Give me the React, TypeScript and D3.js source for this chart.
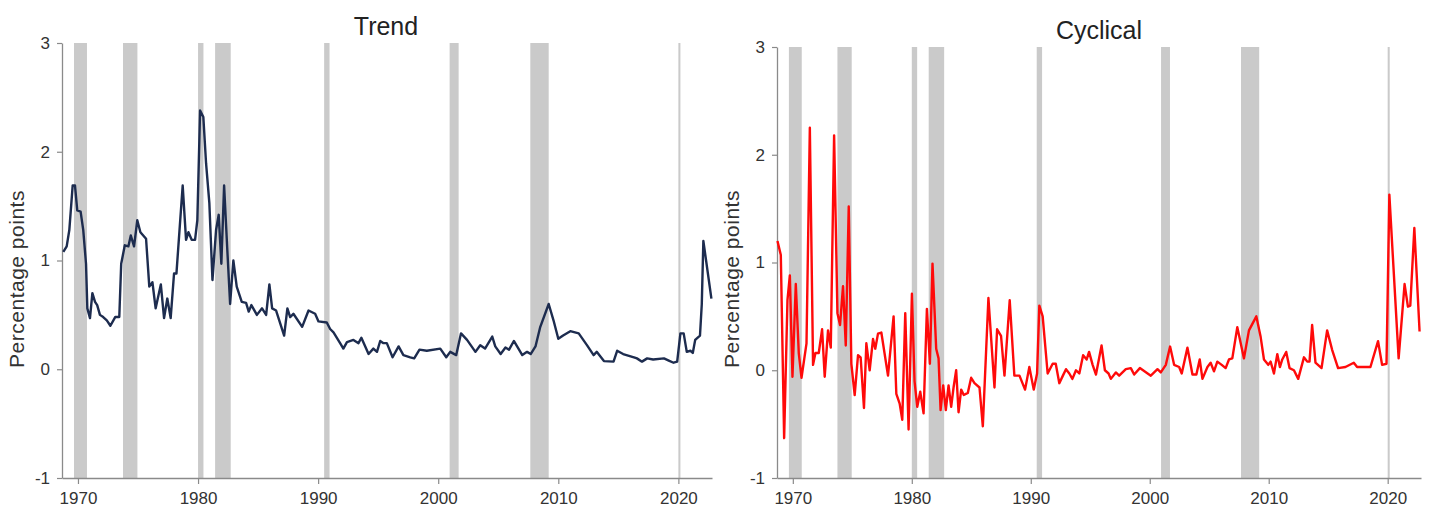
import React, { useEffect, useRef } from 'react';
import * as d3 from 'd3';

// trend component, quarterly-ish readings (year, percentage points)
const trendYears = [
  1968.78, 1969.06, 1969.28, 1969.56, 1969.75, 1969.94, 1970.22, 1970.44, 1970.67, 1970.78,
  1971.0, 1971.2, 1971.42, 1971.6, 1971.83, 1972.1, 1972.4, 1972.7, 1973.1, 1973.44,
  1973.6, 1973.9, 1974.2, 1974.4, 1974.67, 1974.94, 1975.2, 1975.67, 1975.94, 1976.2,
  1976.47, 1976.9, 1977.17, 1977.44, 1977.72, 1978.0, 1978.2, 1978.72, 1979.0, 1979.2,
  1979.47, 1979.75, 1979.94, 1980.17, 1980.44, 1980.67, 1980.94, 1981.2, 1981.5, 1981.72,
  1981.94, 1982.17, 1982.44, 1982.67, 1982.94, 1983.22, 1983.64, 1984.0, 1984.22, 1984.44,
  1984.9, 1985.33, 1985.67, 1985.94, 1986.17, 1986.5, 1987.17, 1987.44, 1987.67, 1987.94,
  1988.67, 1989.2, 1989.75, 1990.03, 1990.72, 1991.0, 1991.28, 1991.83, 1992.1, 1992.4,
  1992.94, 1993.36, 1993.6, 1994.2, 1994.6, 1994.9, 1995.17, 1995.44, 1995.72, 1996.2,
  1996.7, 1997.1, 1997.67, 1998.0, 1998.44, 1999.05, 2000.17, 2000.67, 2001.0, 2001.5,
  2001.9, 2002.4, 2003.1, 2003.5, 2003.9, 2004.5, 2004.75, 2005.2, 2005.6, 2005.9,
  2006.3, 2007.0, 2007.4, 2007.7, 2008.1, 2008.5, 2009.2, 2009.6, 2010.0, 2010.4,
  2011.0, 2011.7, 2012.4, 2012.94, 2013.2, 2013.8, 2014.6, 2014.9, 2015.4, 2016.3,
  2016.55, 2016.97, 2017.4, 2017.9, 2018.8, 2019.2, 2019.6, 2019.9, 2020.17, 2020.44,
  2020.7, 2021.0, 2021.2, 2021.4, 2021.8, 2021.95, 2022.08, 2022.75,
];
const trendValues = [
  1.08, 1.13, 1.28, 1.69, 1.69, 1.46, 1.45, 1.28, 0.97, 0.56,
  0.47, 0.7, 0.62, 0.59, 0.5, 0.48, 0.45, 0.4, 0.48, 0.48,
  0.97, 1.14, 1.13, 1.23, 1.13, 1.37, 1.26, 1.2, 0.76, 0.8,
  0.56, 0.78, 0.47, 0.65, 0.47, 0.88, 0.88, 1.69, 1.19, 1.26,
  1.19, 1.19, 1.37, 2.38, 2.32, 1.89, 1.53, 0.82, 1.28, 1.42,
  0.97, 1.69, 1.09, 0.6, 1.0, 0.76, 0.62, 0.61, 0.53, 0.59,
  0.5, 0.56, 0.5, 0.78, 0.56, 0.54, 0.31, 0.56, 0.48, 0.51,
  0.39, 0.54, 0.51, 0.44, 0.43, 0.37, 0.34, 0.24, 0.19, 0.25,
  0.27, 0.24, 0.29, 0.14, 0.19, 0.16, 0.26, 0.24, 0.24, 0.11,
  0.21, 0.13, 0.11, 0.1, 0.18, 0.17, 0.19, 0.11, 0.16, 0.13,
  0.33, 0.27, 0.16, 0.22, 0.19, 0.3, 0.21, 0.14, 0.2, 0.18,
  0.26, 0.13, 0.16, 0.14, 0.21, 0.39, 0.6, 0.45, 0.28, 0.31,
  0.35, 0.33, 0.22, 0.13, 0.16, 0.075, 0.07, 0.17, 0.14, 0.11,
  0.1, 0.07, 0.1, 0.09, 0.1, 0.08, 0.06, 0.07, 0.33, 0.33,
  0.16, 0.17, 0.15, 0.27, 0.31, 0.6, 1.18, 0.65,
];

// cyclical component
const cyclicalYears = [
  1968.71, 1968.99, 1969.27, 1969.55, 1969.75, 1969.97, 1970.25, 1970.5, 1970.73, 1971.15,
  1971.43, 1971.7, 1971.9, 1972.18, 1972.46, 1972.68, 1972.96, 1973.19, 1973.47, 1973.75,
  1973.97, 1974.22, 1974.45, 1974.7, 1974.92, 1975.2, 1975.48, 1975.7, 1975.98, 1976.18,
  1976.46, 1976.74, 1976.93, 1977.16, 1977.44, 1978.0, 1978.47, 1978.7, 1978.98, 1979.2,
  1979.45, 1979.73, 1980.01, 1980.23, 1980.46, 1980.71, 1980.99, 1981.27, 1981.52, 1981.74,
  1982.05, 1982.25, 1982.42, 1982.64, 1982.86, 1983.09, 1983.31, 1983.51, 1983.73, 1983.93,
  1984.15, 1984.37, 1984.71, 1984.99, 1985.27, 1985.69, 1985.97, 1986.44, 1986.95, 1987.17,
  1987.5, 1987.79, 1988.23, 1988.62, 1989.05, 1989.52, 1989.88, 1990.25, 1990.53, 1990.72,
  1991.0, 1991.42, 1991.84, 1992.1, 1992.4, 1992.7, 1992.96, 1993.24, 1993.5, 1993.8,
  1994.08, 1994.4, 1994.7, 1994.9, 1995.2, 1995.48, 1995.95, 1996.23, 1996.54, 1996.73,
  1997.15, 1997.43, 1997.99, 1998.41, 1998.69, 1999.17, 2000.09, 2000.65, 2000.93, 2001.35,
  2001.71, 2002.05, 2002.47, 2002.69, 2003.17, 2003.59, 2003.92, 2004.2, 2004.43, 2004.85,
  2005.12, 2005.4, 2005.68, 2006.05, 2006.38, 2006.66, 2006.94, 2007.36, 2007.92, 2008.34,
  2008.96, 2009.32, 2009.6, 2009.96, 2010.16, 2010.44, 2010.72, 2010.94, 2011.14, 2011.47,
  2011.75, 2012.12, 2012.48, 2012.96, 2013.24, 2013.43, 2013.65, 2013.93, 2014.44, 2014.91,
  2015.33, 2015.83, 2016.45, 2017.15, 2017.43, 2017.85, 2018.55, 2019.19, 2019.53, 2019.9,
  2020.14, 2020.92, 2021.42, 2021.7, 2021.9, 2022.24, 2022.68,
];
const cyclicalValues = [
  1.2, 1.07, -0.63, 0.65, 0.88, -0.06, 0.8, 0.16, -0.07, 0.25,
  2.25, 0.05, 0.16, 0.16, 0.38, -0.06, 0.37, 0.21, 2.18, 0.53,
  0.42, 0.78, 0.23, 1.52, 0.06, -0.23, 0.14, 0.12, -0.35, 0.25,
  0.0, 0.29, 0.2, 0.34, 0.35, -0.05, 0.5, -0.22, -0.31, -0.46,
  0.53, -0.55, 0.71, -0.1, -0.34, -0.2, -0.4, 0.57, 0.06, 0.99,
  0.2, 0.11, -0.37, -0.14, -0.37, -0.14, -0.34, -0.16, 0.0, -0.39,
  -0.18, -0.23, -0.21, -0.07, -0.12, -0.16, -0.52, 0.67, -0.16, 0.38,
  0.32, -0.05, 0.65, -0.05, -0.05, -0.18, 0.03, -0.18, -0.03, 0.6,
  0.5, -0.03, 0.06, 0.06, -0.12, -0.05, 0.01, -0.03, -0.08, 0.0,
  -0.03, 0.14, 0.1, 0.17, 0.05, -0.04, 0.23, 0.0, -0.03, -0.08,
  -0.02, -0.05, 0.01, 0.02, -0.04, 0.02, -0.05, 0.01, -0.02, 0.05,
  0.22, 0.05, 0.03, -0.03, 0.21, -0.04, -0.04, 0.1, -0.08, 0.03,
  0.07, -0.01, 0.08, 0.05, 0.02, 0.1, 0.11, 0.4, 0.11, 0.37,
  0.5, 0.31, 0.1, 0.05, 0.08, -0.03, 0.15, 0.03, 0.1, 0.17,
  0.02, 0.0, -0.08, 0.12, 0.08, 0.08, 0.42, 0.07, 0.02, 0.37,
  0.19, 0.02, 0.03, 0.07, 0.03, 0.03, 0.03, 0.27, 0.05, 0.06,
  1.63, 0.11, 0.8, 0.59, 0.6, 1.32, 0.36,
];

// shaded recessions
const recessionStarts = [1969.67, 1973.75, 1980.0, 1981.42, 1990.5, 2000.95, 2007.67, 2020.0];
const recessionEnds = [1970.75, 1974.95, 1980.45, 1982.72, 1990.95, 2001.7, 2009.2, 2020.17];

const yTicks = [-1, 0, 1, 2, 3];
const xTicks = [1970, 1980, 1990, 2000, 2010, 2020];

const FONT = '"Liberation Sans", Arial, Helvetica, sans-serif';

const panels = [
  { title: 'Trend', years: trendYears, values: trendValues, color: '#1d2c4f',
    left: 62, right: 712, top: 43, bottom: 478, titleX: 386, titleY: 35, labelX: 17 },
  { title: 'Cyclical', years: cyclicalYears, values: cyclicalValues, color: '#ff0a0a',
    left: 777, right: 1421, top: 47, bottom: 478, titleX: 1099, titleY: 39, labelX: 732 },
];

export default function App() {
  const ref = useRef<SVGSVGElement>(null);

  useEffect(() => {
    const svg = d3.select(ref.current);
    svg.selectAll('*').remove();

    panels.forEach(p => {
      const x = d3.scaleLinear().domain([1968.67, 2022.8]).range([p.left, p.right]);
      const y = d3.scaleLinear().domain([-1, 3]).range([p.bottom, p.top]);
      const g = svg.append('g');

      // recession bars
      g.selectAll('rect.rec')
        .data(recessionStarts)
        .enter().append('rect')
        .attr('x', (d) => x(d))
        .attr('width', (d, i) => Math.max(1.5, x(recessionEnds[i]) - x(d)))
        .attr('y', y(3))
        .attr('height', y(-1) - y(3))
        .attr('fill', '#cacaca');

      // axes (plain hyphen for negatives, like the original)
      const yAxis = g.append('g')
        .attr('transform', `translate(${p.left},0)`)
        .call(d3.axisLeft(y).tickValues(yTicks).tickFormat(d => String(d)).tickSize(5).tickSizeOuter(0).tickPadding(7));
      const xAxis = g.append('g')
        .attr('transform', `translate(0,${p.bottom})`)
        .call(d3.axisBottom(x).tickValues(xTicks).tickFormat(d => String(d)).tickSize(6).tickSizeOuter(0).tickPadding(8));
      [yAxis, xAxis].forEach(a => {
        a.select('.domain').attr('stroke', '#8a8a8a').attr('stroke-width', 1.3);
        a.selectAll('.tick line').attr('stroke', '#8a8a8a').attr('stroke-width', 1.2);
        a.selectAll('.tick text')
          .attr('fill', '#333')
          .attr('font-size', 17)
          .attr('font-family', FONT);
      });

      // series line
      const pts: [number, number][] = p.years.map((yr, i) => [yr, p.values[i]]);
      g.append('path')
        .datum(pts)
        .attr('fill', 'none')
        .attr('stroke', p.color)
        .attr('stroke-width', 2.4)
        .attr('stroke-linejoin', 'round')
        .attr('d', d3.line<[number, number]>().x(d => x(d[0])).y(d => y(d[1])));

      // title
      g.append('text')
        .attr('x', p.titleX)
        .attr('y', p.titleY)
        .attr('text-anchor', 'middle')
        .attr('font-size', 25)
        .attr('font-family', FONT)
        .attr('fill', '#222')
        .text(p.title);

      // y label
      g.append('text')
        .attr('transform', `translate(${p.labelX},279) rotate(-90)`)
        .attr('text-anchor', 'middle')
        .attr('dy', '0.35em')
        .attr('font-size', 21)
        .attr('letter-spacing', 0.5)
        .attr('font-family', FONT)
        .attr('fill', '#333')
        .text('Percentage points');
    });
  }, []);

  return (
    <svg ref={ref} width={1429} height={508}
      style={{ position: 'absolute', left: 0, top: 0, background: '#fff' }} />
  );
}
